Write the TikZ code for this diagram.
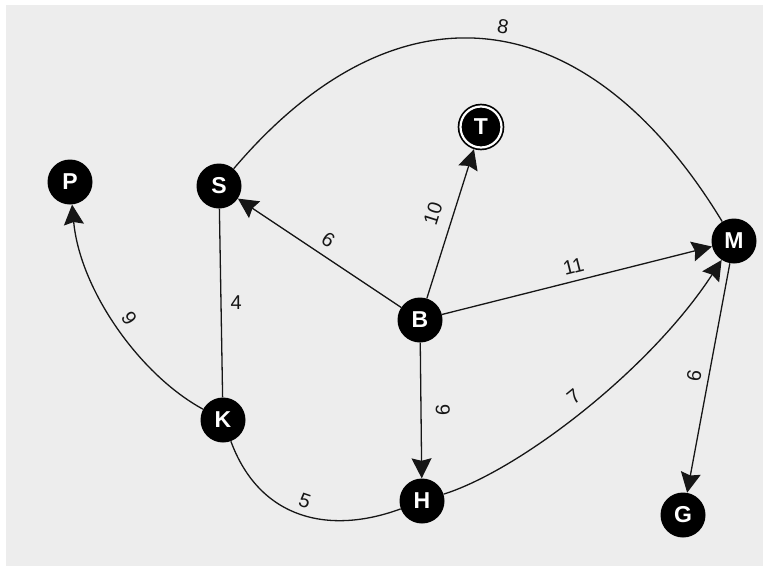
\documentclass[tikz,border=0pt]{standalone}
\usepackage{fontspec}
\setmainfont{Liberation Sans}
\usetikzlibrary{arrows.meta}
\definecolor{canvas}{HTML}{EDEDED}
\definecolor{ink}{HTML}{161616}
\begin{document}
\begin{tikzpicture}[x=1pt,y=-1pt,
  vertex/.style={circle, fill=black, minimum size=45pt, inner sep=0pt,
    text=white, font=\fontsize{23}{23}\selectfont\bfseries},
  goal/.style={vertex, minimum size=41pt, draw=black, line width=1.7pt,
    double=white, double distance=2.2pt, outer sep=2.8pt},
  edge/.style={draw=ink, line width=1.3pt},
  arc/.style={edge, -{Stealth[length=20pt,width=20pt,inset=2.5pt]}},
  lab/.style={font=\fontsize{20}{20}\selectfont, text=ink, inner sep=0pt},
  slab/.style={lab, sloped}
]
% canvas
\fill[white] (0,0) rectangle (769,571);
\fill[canvas] (6,5) rectangle (763,566);
\useasboundingbox (0,0) rectangle (769,571);

% vertices
\node[vertex] (P) at (70,182) {P};
\node[vertex] (S) at (219,186) {S};
\node[goal]   (T) at (481,127) {T};
\node[vertex] (M) at (734,241) {M};
\node[vertex] (B) at (420,320) {B};
\node[vertex] (K) at (223,420) {K};
\node[vertex] (H) at (422,501) {H};
\node[vertex] (G) at (683,515) {G};

% undirected edges
\draw[edge] (S) .. controls (400,-27) and (589,2) .. node[slab, above=7pt, pos=0.52] {8} (M);
\draw[edge] (K) -- node[lab, right=9pt] {4} (S);
\draw[edge] (K) .. controls (260,520) and (330,535) .. node[slab, above=7pt, pos=0.5] {5} (H);

% directed edges
\draw[arc] (B) -- node[slab, above=8pt] {6} (S);
\draw[arc] (B) -- node[slab, above=12pt, pos=0.53] {10} (T);
\draw[arc] (B) -- node[slab, above=7pt] {11} (M);
\draw[arc] (B) -- node[slab, above=14pt] {9} (H);
\draw[arc] (H) .. controls (520,470) and (650,370) .. node[slab, above=9pt, pos=0.5] {7} (M);
\draw[arc] (M) -- node[slab, above=7pt] {6} (G);
\draw[arc] (K) .. controls (140,375) and (80,290) .. node[slab, above=7pt, pos=0.5] {9} (P);
\end{tikzpicture}
\end{document}
